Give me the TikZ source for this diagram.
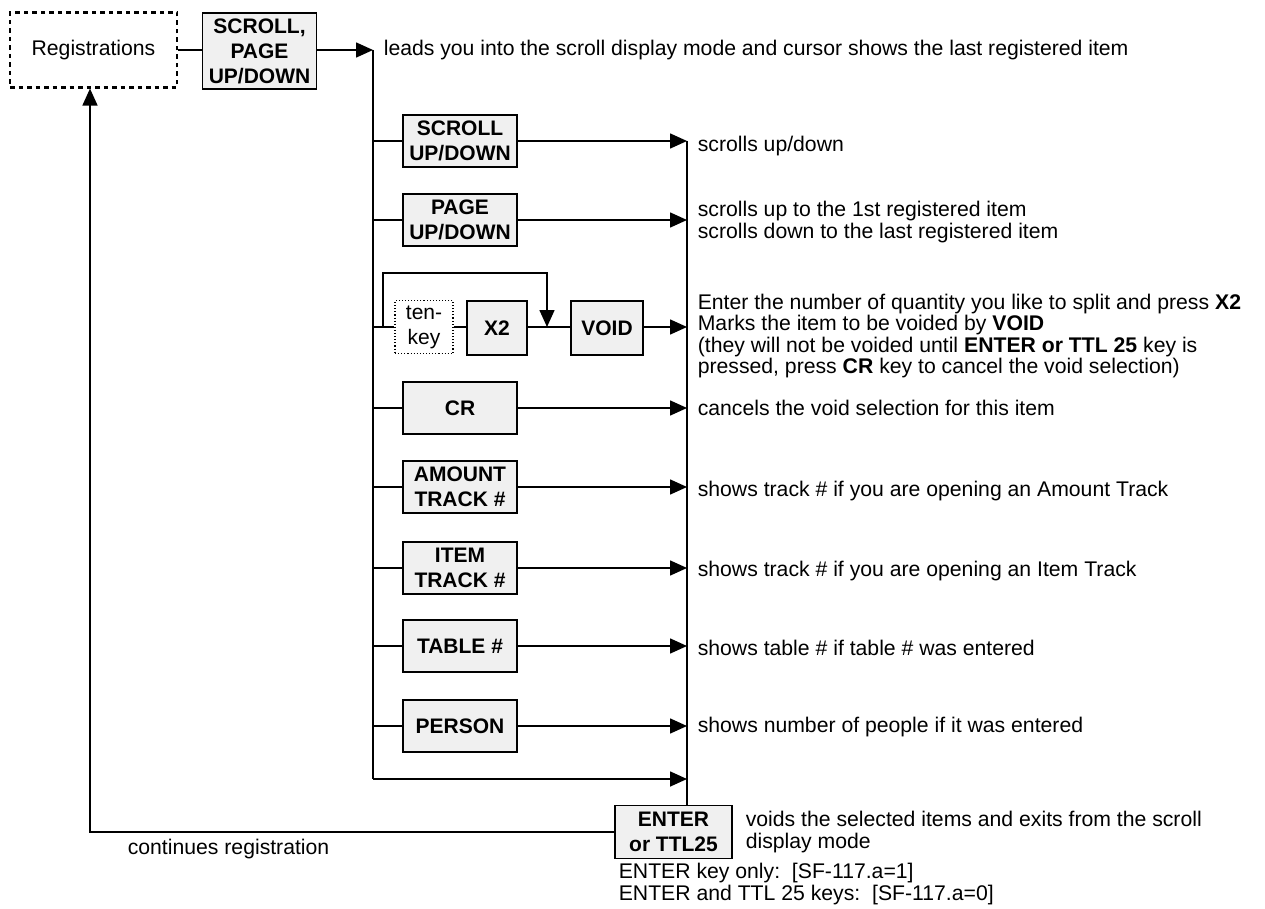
\documentclass[tikz,border=0pt]{standalone}
\usepackage{fontspec}
\setmainfont{Liberation Sans}
\usetikzlibrary{arrows.meta}

\tikzset{
  keybox/.style={draw, line width=1.6pt, fill=black!6,
    font=\fontsize{21}{25}\selectfont\bfseries,
    align=center, minimum width=114pt, minimum height=52pt, inner sep=0pt},
  regbox/.style={draw, line width=2.2pt, dash pattern=on 4.5pt off 4pt,
    minimum width=167pt, minimum height=75pt, inner sep=0pt},
  tenbox/.style={draw, line width=1.1pt, dotted, align=center,
    font=\fontsize{21}{25}\selectfont,
    minimum width=58pt, minimum height=53pt, inner sep=0pt},
  arr/.style={-{Triangle[length=17pt,width=15pt]}},
  note/.style={anchor=west, align=left, inner sep=0pt},
}

\begin{document}
\begin{tikzpicture}[x=1pt,y=-1pt,line width=1.6pt,
  font=\fontsize{21.2}{21.5}\selectfont]
  \useasboundingbox (0,0) rectangle (1265,909);

  % top row
  \node[regbox] (reg) at (93.5,50) {Registrations};
  \node[keybox, minimum width=114pt, minimum height=76pt] (spg) at (259.5,51)
       {SCROLL,\\PAGE\\UP/DOWN};
  \coordinate (ltop) at (373,50);
  \coordinate (lbot) at (373,779);
  \coordinate (rtop) at (687,141);
  \draw (reg.east) -- (reg.east -| spg.west);
  \draw[arr] (spg.east |- ltop) -- (ltop);
  \draw (ltop) -- (lbot);
  \node[note] (lead) at (383,50)
       {leads you into the scroll display mode and cursor shows the last registered item};

  % keys on the left column
  \node[keybox] (scr) at (460,141) {SCROLL\\UP/DOWN};
  \node[keybox] (pg)  at (460,220) {PAGE\\UP/DOWN};
  \node[tenbox] (ten) at (424,327) {ten-\\key};
  \node[keybox, minimum width=60pt, minimum height=54pt] (x2) at (497,328) {X2};
  \node[keybox, minimum width=72pt, minimum height=54pt] (void) at (607,328) {VOID};
  \node[keybox] (cr)  at (460,408) {CR};
  \node[keybox] (amt) at (460,487) {AMOUNT\\TRACK \#};
  \node[keybox] (itm) at (460,568) {ITEM\\TRACK \#};
  \node[keybox] (tbl) at (460,646) {TABLE \#};
  \node[keybox] (per) at (460,726) {PERSON};
  \node[keybox, minimum width=117pt, minimum height=53pt] (ent) at (673.5,832)
       {ENTER\\or TTL25};

  % branches
  \foreach \k in {scr,pg,cr,amt,itm,tbl,per}{
    \draw (\k.west -| ltop) -- (\k.west);
    \draw[arr] (\k.east) -- (\k.east -| rtop);
  }
  \draw (ten.west -| ltop) -- (ten.west);
  \draw (ten.east) -- (ten.east -| x2.west);
  \draw (x2.east |- ten.east) -- (void.west |- ten.east);
  \draw[arr] (void.east |- ten.east) -- (ten.east -| rtop);
  \coordinate (bya) at (383,273);
  \coordinate (byb) at (547,327);
  \draw[arr] (ten.west -| bya) -- (bya) -- (bya -| byb) -- (byb);
  \draw[arr] (lbot) -- (lbot -| rtop);
  \draw (rtop) -- (ent.north -| rtop);

  % return to registrations
  \coordinate (ret) at (90,832);
  \draw[arr] (ent.west) -- (ret) -- (ret |- reg.south);
  \node[note] (cont) at (127,849) {continues registration};

  % notes on the right
  \node[note] (nscr) at (697,146) {scrolls up/down};
  \node[note] (npg)  at (697,222) {scrolls up to the 1st registered item\\
       scrolls down to the last registered item};
  \node[note] (nvoid) at (697,336) {Enter the number of quantity you like to split and press \textbf{X2}\\
       Marks the item to be voided by \textbf{VOID}\\
       (they will not be voided until \textbf{ENTER or TTL 25} key is\\
       pressed, press \textbf{CR} key to cancel the void selection)};
  \node[note] (ncr)  at (697,408) {cancels the void selection for this item};
  \node[note] (namt) at (697,491) {shows track \# if you are opening an Amount Track};
  \node[note] (nitm) at (697,571) {shows track \# if you are opening an Item Track};
  \node[note] (ntbl) at (697,648) {shows table \# if table \# was entered};
  \node[note] (nper) at (697,727) {shows number of people if it was entered};
  \node[note] (nent) at (745,832) {voids the selected items and exits from the scroll\\
       display mode};
  \node[note] (nsf)  at (618,884) {ENTER key only:\ \ [SF-117.a=1]\\
       ENTER and TTL 25 keys:\ \ [SF-117.a=0]};
\end{tikzpicture}
\end{document}
